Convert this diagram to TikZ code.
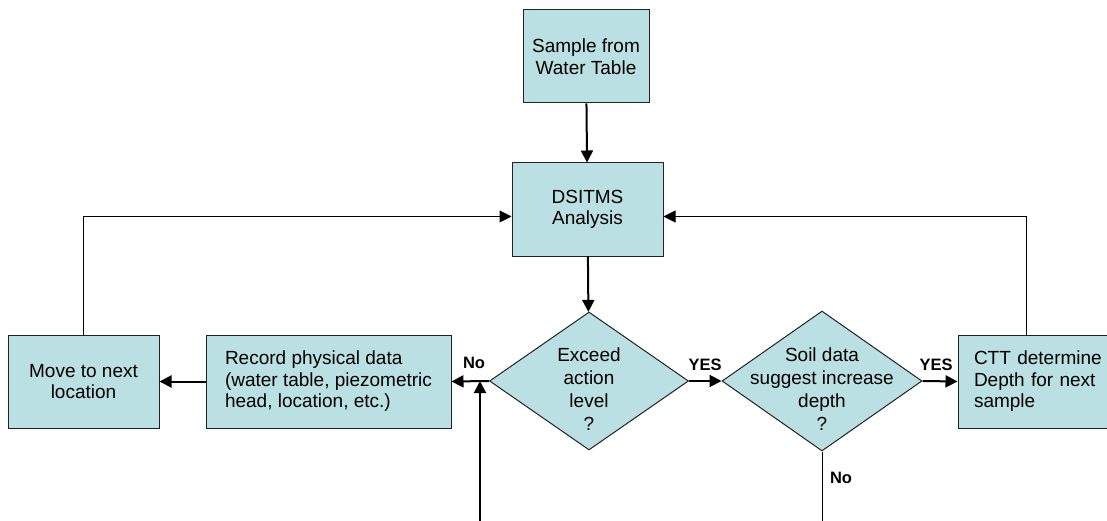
\documentclass[tikz,border=0pt]{standalone}
\usepackage{fontspec}
\setmainfont{Liberation Sans}
\usetikzlibrary{arrows.meta}
\usetikzlibrary{shapes,positioning}
\usetikzlibrary{calc}

\definecolor{boxblue}{HTML}{BBE0E3}
\definecolor{edge}{HTML}{222222}

\tikzset{
  stepbox/.style={draw=edge, line width=1pt, fill=boxblue, rectangle, inner sep=0pt,
    minimum height=93pt, align=center, font=\fontsize{19}{21.5}\selectfont},
  decision/.style={draw=edge, line width=1pt, fill=boxblue, diamond, inner sep=0pt,
    minimum width=199pt, minimum height=138pt},
  dtext/.style={align=center, font=\fontsize{19}{23}\selectfont, yshift=-8pt},
  flow/.style={line width=2pt, -{Triangle[length=12pt,width=12pt]}},
  back/.style={line width=1pt, -{Triangle[length=12pt,width=12pt]}},
  answer/.style={font=\bfseries\fontsize{16.5}{18}\selectfont, inner sep=0pt}
}

\begin{document}
\begin{tikzpicture}[x=1pt, y=-1pt]
\useasboundingbox (0,0) rectangle (1107,521);

% boxes
\node[stepbox, minimum width=126pt] (sample) at (586,56.5) {Sample from\\Water Table};
\node[stepbox, minimum width=151pt] (dsitms) at (587.5,209.5) {DSITMS\\Analysis};
\node[stepbox, minimum width=151pt] (move) at (83.5,381.5) {Move to next\\location};
\node[stepbox, minimum width=245pt, align=left] (record) at (328.5,381.5)
  {Record physical data\\(water table, piezometric\\head, location, etc.)};
\node[stepbox, align=left, text width=130pt, inner xsep=16pt] (ctt) at (1039,381.5)
  {CTT determine\\Depth for next\\sample};

% decisions
\node[decision, label={[dtext]center:Exceed\\action\\level\\?}] (exceed) at (589,381) {};
\node[decision, minimum width=200pt, minimum height=140pt,
  label={[dtext]center:Soil data\\suggest increase\\depth\\?}] (soil) at (822,381) {};

\coordinate (loopin) at (480,530);
\coordinate (soilout) at (822,530);

% main flow
\draw[flow] (sample) -- (dsitms);
\draw[flow] (dsitms) -- (exceed);
\draw[flow] (exceed.west) -- (record.east);
\draw[flow] (exceed.east) -- (soil.west);
\draw[flow] (soil.east) -- (ctt.west);
\draw[flow] (record.west) -- (move.east);
\draw[flow] (loopin) -- (loopin |- exceed.west);
\draw[line width=1pt] (soil.south) -- (soilout);

% loops back to analysis
\draw[back] (move.north) |- ([yshift=-7pt]dsitms.west);
\draw[back] ([xshift=-13pt]ctt.north) |- ([yshift=-7pt]dsitms.east);

% answers
\node[answer] (no1) at (474,363) {No};
\node[answer] (yes1) at (705,365) {YES};
\node[answer] (yes2) at (936,365) {YES};
\node[answer] (no2) at (841,478) {No};
\end{tikzpicture}
\end{document}
